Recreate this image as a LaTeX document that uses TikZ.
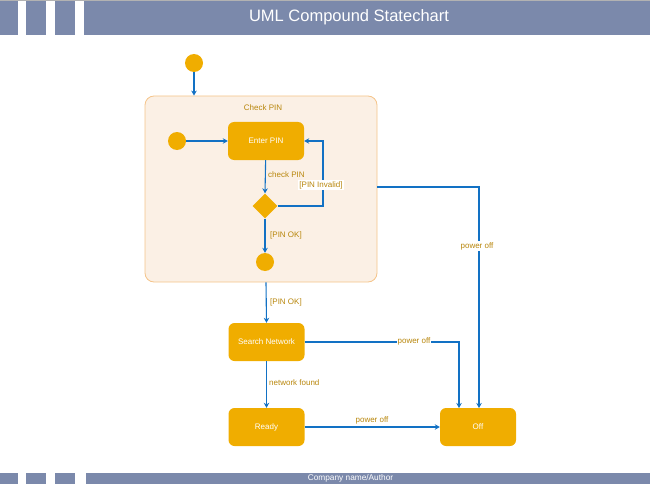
\documentclass[tikz,border=0pt]{standalone}
\usepackage{fontspec}
\setmainfont{Liberation Sans}
\usetikzlibrary{arrows.meta,shapes.geometric}
\definecolor{band}{HTML}{7B89AB}
\definecolor{st}{HTML}{F0AD00}
\definecolor{lbl}{HTML}{B8860B}
\definecolor{ln}{HTML}{1271C4}
\definecolor{cfill}{HTML}{FBF0E5}
\definecolor{cdraw}{HTML}{F5C48A}
\tikzset{
  state/.style={fill=st,draw=none,rounded corners=6pt,minimum width=76pt,minimum height=38pt,text=white,font=\fontsize{8}{9}\selectfont,inner sep=0pt},
  dot/.style={circle,fill=st,draw=none,minimum size=18pt,inner sep=0pt},
  conn/.style={draw=ln,line width=1.1pt,-{Stealth[length=5pt,width=5.5pt]}},
  lab/.style={text=lbl,font=\fontsize{8}{9}\selectfont,inner sep=1pt},
}
\begin{document}
\begin{tikzpicture}[x=1pt,y=-1pt]
\useasboundingbox (0,0) rectangle (650,484);
% header
\fill[gray!60] (0,0) rectangle (650,1);
\fill[band] (0,1) rectangle (18,35);
\fill[band] (26,1) rectangle (46,35);
\fill[band] (55,1) rectangle (75,35);
\fill[band] (84,1) rectangle (650,35);
\node[text=white,font=\fontsize{16.5}{18}\selectfont] (title) at (349,17.5) {UML Compound Statechart};
% footer
\fill[band] (0,473) rectangle (18,484);
\fill[band] (26,473) rectangle (46,484);
\fill[band] (55,473) rectangle (75,484);
\fill[band] (86,473) rectangle (650,484);
\node[text=white,font=\fontsize{8.3}{9}\selectfont] (footer) at (350.5,478.5) {Company name/Author};
% composite
\node[draw=cdraw,fill=cfill,line width=0.8pt,rounded corners=9pt,minimum width=232pt,minimum height=186pt,inner sep=0pt] (comp) at (261,189) {};
\node[lab] (ctitle) at (263,108) {Check PIN};
\node[dot] (init) at (194,63) {};
\node[dot] (init2) at (177,141) {};
\node[state] (enter) at (266,141) {Enter PIN};
\node[diamond,fill=st,draw=none,minimum width=25pt,minimum height=25pt,inner sep=0pt] (dec) at (265,206) {};
\node[dot] (fin) at (265,262) {};
\node[state] (search) at (266.5,342) {Search Network};
\node[state] (ready) at (266.5,427) {Ready};
\node[state] (off) at (478,427) {Off};
% connectors
\draw[conn] (init) -- (init|-comp.north);
\draw[conn] (init2) -- (enter.west);
\draw[conn] (enter) -- (dec.north);
\node[lab,anchor=west] (l1) at (267,175) {check PIN};
\draw[conn] (dec.east) -- (323,206) -- (323,141) -- (enter.east);
\node[lab,fill=white] (l2) at (321,185) {[PIN Invalid]};
\draw[conn] (dec) -- (fin);
\node[lab,anchor=west] (l3) at (269,235) {[PIN OK]};
\draw[conn] (comp.south-|enter) -- (search.north);
\node[lab,anchor=west] (l4) at (269,302) {[PIN OK]};
\draw[conn] (search) -- (ready);
\node[lab,anchor=west] (l5) at (268,383) {network found};
\draw[conn] (ready) -- (off);
\node[lab] (l6) at (372,420) {power off};
\draw[conn] (search.east) -- (459,342) -- (459,408);
\node[lab,fill=white] (l7) at (414,341) {power off};
\draw[conn] (377,187) -- (479,187) -- (479,408);
\node[lab,fill=white] (l8) at (477,246) {power off};
\end{tikzpicture}
\end{document}
